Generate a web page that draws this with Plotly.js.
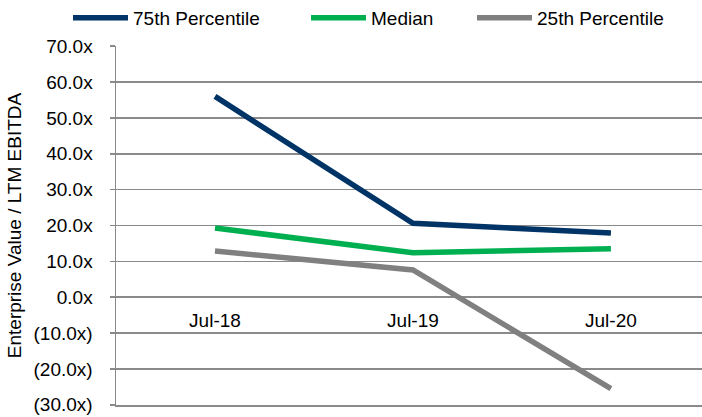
<!DOCTYPE html>
<html>
<head>
<meta charset="utf-8">
<script src="https://cdn.plot.ly/plotly-3.0.1.min.js"></script>
<style>html,body{margin:0;padding:0;background:#fff;}#chart{width:702px;height:417px;}</style>
</head>
<body>
<div id="chart"></div>
<script>
var categories = ['Jul-18', 'Jul-19', 'Jul-20'];
var p75 = [56.0, 20.6, 17.9];
var median = [19.3, 12.4, 13.5];
var p25 = [12.9, 7.6, -25.5];
var seriesNames = ['75th Percentile', 'Median', '25th Percentile'];
var yTickVals = [-30, -20, -10, 0, 10, 20, 30, 40, 50, 60, 70];
var yTickText = ['(30.0x)', '(20.0x)', '(10.0x)', '0.0x', '10.0x', '20.0x', '30.0x', '40.0x', '50.0x', '60.0x', '70.0x'];
var yTitle = 'Enterprise Value / LTM EBITDA';

var FONT = 'Liberation Sans, Arial, sans-serif';
var FS = 19;
var GRID = '#8a8a8a';
var XR = [-0.5, 2.46];
function tr(y, name, color, legend) {
  return {x: categories, y: y, name: name, type: 'scatter', mode: 'lines',
          line: {color: color, width: 5.5}, legend: legend, hoverinfo: 'skip'};
}
var data = [
  tr(p75, seriesNames[0], '#003366', 'legend'),
  tr(median, seriesNames[1], '#00B050', 'legend2'),
  tr(p25, seriesNames[2], '#808080', 'legend3'),
  // carrier for the category labels drawn at the zero line
  {x: categories, y: categories.map(function(){return null;}), xaxis: 'x2', yaxis: 'y',
   type: 'scatter', mode: 'lines', showlegend: false, hoverinfo: 'skip'}
];
function lg(xpx) {
  return {xref: 'container', yref: 'container', x: xpx / 702, y: 1 - 18 / 417,
          xanchor: 'left', yanchor: 'middle', orientation: 'h', itemwidth: 55,
          font: {family: FONT, size: FS, color: '#000'}, bgcolor: 'rgba(0,0,0,0)'};
}
var layout = {
  width: 702, height: 417,
  margin: {l: 116, r: 0, t: 46, b: 12},
  paper_bgcolor: '#fff', plot_bgcolor: '#fff',
  font: {family: FONT, size: FS, color: '#000'},
  showlegend: true,
  legend: lg(68), legend2: lg(306), legend3: lg(472),
  xaxis: {type: 'category', range: XR, anchor: 'y', side: 'bottom',
          showline: true, linecolor: GRID, linewidth: 1.5, showticklabels: false,
          ticks: '', showgrid: false, zeroline: false, fixedrange: true},
  xaxis2: {type: 'category', range: XR, overlaying: 'x', anchor: 'free', position: 0.3,
           side: 'bottom', showline: false, ticks: '', showgrid: false, zeroline: false,
           ticklabelstandoff: 10,
           tickfont: {family: FONT, size: FS, color: '#000'}, fixedrange: true},
  yaxis: {range: [-30.05, 70.05], tickvals: yTickVals, ticktext: yTickText,
          showline: true, linecolor: GRID, linewidth: 1.5,
          ticks: 'outside', ticklen: 5, tickcolor: GRID, tickwidth: 1.5,
          showgrid: true, gridcolor: GRID, gridwidth: 1.5, zeroline: false,
          tickfont: {family: FONT, size: FS, color: '#000'},
          ticklabelstandoff: 13, ticklabeloverflow: 'allow',
          title: {text: yTitle, font: {family: FONT, size: FS, color: '#000'}, standoff: 7}}
};
Plotly.newPlot('chart', data, layout, {staticPlot: true, displayModeBar: false});
</script>
</body>
</html>
